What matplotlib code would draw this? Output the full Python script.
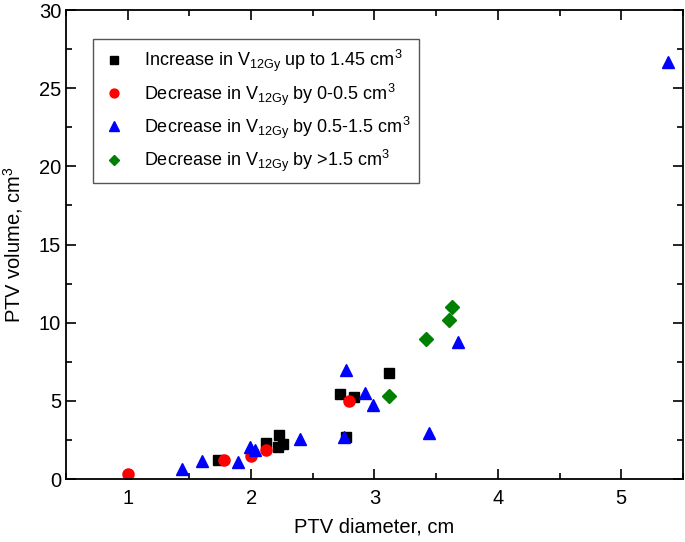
import matplotlib
matplotlib.use("Agg")
import matplotlib.pyplot as plt
from matplotlib.ticker import MultipleLocator

plt.rcParams['font.family'] = ['Liberation Sans', 'DejaVu Sans']
plt.rcParams['mathtext.fontset'] = 'custom'
plt.rcParams['mathtext.rm'] = 'Liberation Sans'
plt.rcParams['mathtext.it'] = 'Liberation Sans'

# Data
inc_x = [1.73, 2.12, 2.23, 2.22, 2.26, 2.72, 2.83, 2.77, 3.12]
inc_y = [1.20, 2.28, 2.80, 2.07, 2.24, 5.42, 5.27, 2.67, 6.80]

dec0_x = [1.00, 1.78, 2.00, 2.12, 2.79]
dec0_y = [0.30, 1.22, 1.47, 1.86, 5.01]

dec1_x = [1.44, 1.60, 1.89, 1.99, 2.03, 2.40, 2.75, 2.77, 2.92, 2.99, 3.44, 3.68, 5.38]
dec1_y = [0.64, 1.13, 1.07, 2.03, 1.86, 2.54, 2.67, 6.97, 5.48, 4.73, 2.96, 8.77, 26.7]

dec2_x = [3.12, 3.42, 3.60, 3.63]
dec2_y = [5.31, 8.98, 10.2, 11.0]

labels = [
    r'Increase in V$_{\mathregular{12Gy}}$ up to 1.45 cm$^{\mathregular{3}}$',
    r'Decrease in V$_{\mathregular{12Gy}}$ by 0-0.5 cm$^{\mathregular{3}}$',
    r'Decrease in V$_{\mathregular{12Gy}}$ by 0.5-1.5 cm$^{\mathregular{3}}$',
    r'Decrease in V$_{\mathregular{12Gy}}$ by >1.5 cm$^{\mathregular{3}}$',
]

fig = plt.figure(figsize=(6.85, 5.42), dpi=100)
ax = fig.add_axes([0.0964, 0.1162, 0.9006, 0.8653])

ax.plot(inc_x, inc_y, 's', color='black', markersize=7, linestyle='none', label=labels[0])
ax.plot(dec0_x, dec0_y, 'o', color='#ff0000', markersize=8, linestyle='none', label=labels[1])
ax.plot(dec1_x, dec1_y, '^', color='#0000ff', markersize=9, linestyle='none', label=labels[2])
ax.plot(dec2_x, dec2_y, 'D', color='#008000', markersize=7, linestyle='none', label=labels[3])

ax.set_xlim(0.5, 5.5)
ax.set_ylim(0, 30)
ax.xaxis.set_major_locator(MultipleLocator(1))
ax.xaxis.set_minor_locator(MultipleLocator(0.5))
ax.yaxis.set_major_locator(MultipleLocator(5))
ax.yaxis.set_minor_locator(MultipleLocator(2.5))
ax.tick_params(which='both', direction='in', top=True, right=True, width=1.2, labelsize=14.5)
ax.tick_params(which='major', length=7)
ax.tick_params(which='minor', length=4)
ax.tick_params(axis='x', pad=7)
for s in ax.spines.values():
    s.set_linewidth(1.3)

ax.set_xlabel('PTV diameter, cm', fontsize=14.5, labelpad=7)
ax.set_ylabel(r'PTV volume, cm$^{\mathregular{3}}$', fontsize=14.5, labelpad=10)

leg = ax.legend(loc='upper left', bbox_to_anchor=(0.044, 0.938), borderaxespad=0,
                fontsize=13, fancybox=False, edgecolor='#555555', framealpha=1,
                markerscale=0.8, handletextpad=1.0, borderpad=0.5, labelspacing=0.38,
                handlelength=1.3)
leg.get_frame().set_linewidth(1.0)

fig.savefig('out.png', dpi=100)
